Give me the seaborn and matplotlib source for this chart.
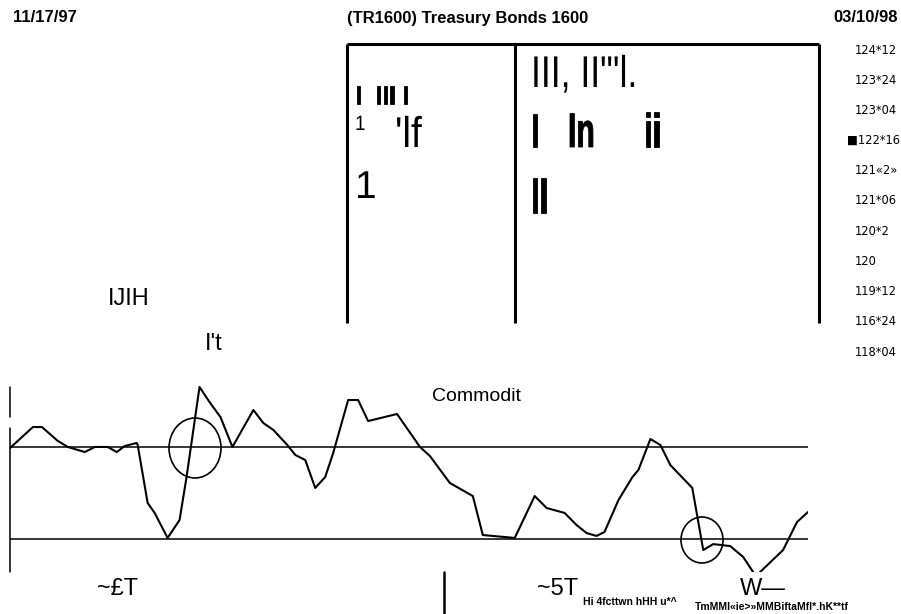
import matplotlib
matplotlib.use("Agg")
import matplotlib.pyplot as plt
from matplotlib.patches import Ellipse, PathPatch
from matplotlib.textpath import TextPath
from matplotlib.font_manager import FontProperties
from matplotlib.transforms import Affine2D
import seaborn as sns
import pandas as pd

# oscillator trace (trading day index, value)
days = [0.0, 2.3, 3.2, 4.8, 5.8, 7.5, 8.5, 9.8, 10.7, 11.5, 12.7, 12.8,
        13.8, 14.5, 15.8, 17.0, 17.7, 19.0, 20.0, 21.1, 22.3, 24.4, 25.4,
        26.4, 27.8, 28.6, 29.6, 30.6, 31.6, 32.4, 33.9, 34.9, 35.9, 38.8,
        41.1, 42.1, 44.1, 46.4, 47.4, 50.6, 52.6, 53.8, 55.6, 56.8, 57.8,
        58.8, 59.6, 61.0, 62.4, 63.0, 64.2, 65.2, 66.2, 68.4, 69.5, 70.5,
        72.2, 73.5, 74.5, 74.9, 75.2, 77.5, 78.9, 80.0]
osc = [79.3, 93.0, 93.0, 83.9, 80.0, 76.7, 80.0, 80.0, 76.7, 80.6, 82.6, 81.3,
       43.5, 37.0, 20.7, 32.4, 60.4, 119.1, 109.3, 99.5, 80.0, 104.1, 95.6,
       91.1, 81.3, 74.8, 71.5, 53.3, 60.4, 76.1, 110.6, 110.6, 96.9, 101.5,
       80.0, 74.1, 56.5, 48.0, 22.6, 20.7, 48.0, 40.2, 37.0, 29.1, 23.9,
       22.0, 24.6, 45.4, 60.4, 65.0, 85.2, 81.3, 68.2, 53.3, 12.8, 16.7,
       15.4, 8.3, -1.5, -6.7, -1.5, 12.8, 31.1, 37.6]
upper_band = 80
lower_band = 20

price_labels = ["124*12", "123*24", "123*04", "\u25a0122*16", "121\u00ab2\u00bb",
                "121*06", "120*2", "120", "119*12", "116*24", "118*04"]

header_left = "11/17/97"
header_title = "(TR1600) Treasury Bonds 1600"
header_right = "03/10/98"

sns.set_style("white")
plt.rcParams["font.family"] = ["Liberation Sans", "DejaVu Sans"]
plt.rcParams["text.color"] = "black"

W, H = 901, 614
fig = plt.figure(figsize=(W / 100, H / 100), dpi=100)

# lower panel: oscillator
ax = fig.add_axes([10 / W, (H - 572) / H, 798 / W, (572 - 383) / H])
df = pd.DataFrame({"day": days, "osc": osc})
sns.lineplot(data=df, x="day", y="osc", ax=ax, color="black", linewidth=1.5)
ax.axhline(upper_band, color="black", linewidth=1.1)
ax.axhline(lower_band, color="black", linewidth=1.1)
ax.set_xlim(0, 80)
ax.set_ylim(-1.5, 121.7)
ax.axis("off")

# overlay in pixel coordinates for the page furniture
ov = fig.add_axes([0, 0, 1, 1], zorder=5)
ov.set_xlim(0, W)
ov.set_ylim(H, 0)
ov.axis("off")
ov.patch.set_alpha(0)


def squeezed(x, y, s, size_pt, sx, weight="normal", sy=1.0, thick=0.0):
    # text drawn as a path so it can be squashed sideways like the scan
    fp = FontProperties(family="Liberation Sans", weight=weight)
    path = TextPath((0, 0), s, size=size_pt * 100 / 72, prop=fp)
    tr = Affine2D().scale(sx, -sy).translate(x, y) + ov.transData
    ov.add_patch(PathPatch(path, transform=tr, facecolor="black",
                           edgecolor="black" if thick else "none",
                           linewidth=thick, joinstyle="miter"))


# header
ov.text(13, 18, header_left, fontsize=12, fontweight="bold", va="center")
ov.text(347, 18, header_title, fontsize=12, fontweight="bold", va="center")
ov.text(898, 18, header_right, fontsize=12, fontweight="bold", va="center", ha="right")

# box around the upper panel
box_kw = dict(color="black", linewidth=2.2, solid_capstyle="butt")
ov.plot([347, 819], [44, 44], **box_kw)
ov.plot([347, 347], [44, 323], **box_kw)
ov.plot([515, 515], [44, 323], **box_kw)
ov.plot([819, 819], [44, 323], **box_kw)

# price scale
for i, lab in enumerate(price_labels):
    x = 847 if lab.startswith("\u25a0") else 855
    ov.text(x, 50 + 30.2 * i, lab, fontsize=8.3, va="center",
            family=["DejaVu Sans"])

# garbled glyph blocks inside the box
squeezed(355, 104, "I  III I", 14, 1.25, weight="bold", sy=1.35, thick=0.6)
squeezed(355, 130, "1", 15, 0.9)
squeezed(395, 147, "'lf", 31, 0.9)
squeezed(355, 198, "1", 28, 1.0)
squeezed(531, 87, "III, II\"'l.", 32, 0.8)
squeezed(531, 147, "I", 35, 0.62, weight="bold", thick=0.6)
squeezed(568, 147, "In", 35, 0.62, weight="bold", thick=0.6)
squeezed(644, 147, "ii", 35, 0.62, weight="bold", thick=0.6)
squeezed(531, 213, "ll", 35, 0.62, weight="bold", thick=0.6)

ov.text(108, 305, "IJIH", fontsize=17, va="baseline")
ov.text(205, 350, "I't", fontsize=17, va="baseline")
ov.text(432, 401, "Commodit", fontsize=14, va="baseline")

# lower panel frame bits
ov.plot([10, 10], [387, 417], color="black", linewidth=1.1)
ov.plot([10, 10], [428, 572], color="black", linewidth=1.1)
ov.plot([444, 444], [572, 614], color="black", linewidth=1.8)

# circled crossings
ov.add_patch(Ellipse((195, 448), 52, 60, fill=False, edgecolor="black", linewidth=1.2))
ov.add_patch(Ellipse((702, 540), 42, 46, fill=False, edgecolor="black", linewidth=1.2))

# footer fragments
ov.text(97, 595, "~\u00a3T", fontsize=17, va="baseline")
ov.text(537, 595, "~5T", fontsize=17, va="baseline")
ov.text(740, 595, "W\u2014", fontsize=17, va="baseline")
ov.text(583, 605, "Hi 4fcttwn hHH u*^", fontsize=7.5, fontweight="bold", va="baseline")
ov.text(695, 610, "TmMMI\u00abie>\u00bbMMBiftaMfl*.hK**tf", fontsize=7.5,
        fontweight="bold", va="baseline")

fig.savefig("out.png", dpi=100)
